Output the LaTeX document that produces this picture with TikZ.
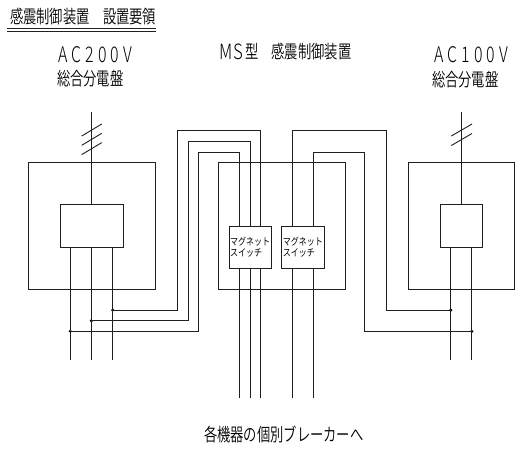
\documentclass[tikz,border=0pt]{standalone}
\usepackage{graphicx}
\usepackage{fontspec}
\setmainfont{Liberation Sans}
\newfontfamily\cjk{Noto Sans CJK JP DemiLight}
\newfontfamily\cjkb{Noto Sans CJK JP}
\newfontfamily\latn[LetterSpace=26]{Noto Sans CJK JP Light}
\newfontfamily\latnb[LetterSpace=8]{Noto Sans CJK JP Light}
\newcommand{\jp}[1]{\scalebox{0.73}[1]{\fontsize{18.2pt}{20pt}\selectfont\cjk #1}}
\newcommand{\smalljp}[1]{\scalebox{0.8}[1]{\fontsize{10pt}{12pt}\selectfont\cjkb #1}}
\newcommand{\acv}[1]{\scalebox{0.74}[1]{\fontsize{21.5pt}{24pt}\selectfont\latn #1}}
\newcommand{\msl}[1]{\scalebox{0.8}[1]{\fontsize{21pt}{20pt}\selectfont\latnb #1}}
\tikzset{
  wire/.style={line width=0.9pt,black!88},
  panel/.style={draw=black!88,line width=0.9pt,inner sep=0pt,outer sep=0pt,anchor=north west},
  switchbox/.style={panel,fill=white,minimum width=42.3pt,minimum height=42pt,align=left},
  label/.style={inner sep=0pt,outer sep=0pt,anchor=west},
  dot/.style={circle,fill=black,inner sep=0pt,minimum size=3.4pt}
}
\begin{document}
\begin{tikzpicture}[x=1pt,y=-1pt]
\useasboundingbox (0,0) rectangle (518,451);
\fill[white] (0,0) rectangle (518,451);
% texts
\node[label] (title) at (10,17) {\jp{感震制御装置　設置要領}};
\node[label] (ac200) at (58,54.5) {\acv{AC200V}};
\node[label] (pan1) at (57,79) {\jp{総合分電盤}};
\node[label] (ms) at (219,51.5) {\msl{MS}};
\node[label] (msb) at (245,51.5) {\jp{型　感震制御装置}};
\node[label] (ac100) at (434,54.5) {\acv{AC100V}};
\node[label] (pan2) at (432,79.5) {\jp{総合分電盤}};
\node[label] (bottom) at (204,434) {\jp{各機器の個別ブレーカーへ}};
% title underline
\coordinate (ula) at (7,28.5); \coordinate (ulb) at (156,28.5);
\coordinate (ulc) at (7,31.5); \coordinate (uld) at (156,31.5);
\draw[wire] (ula) -- (ulb);
\draw[wire] (ulc) -- (uld);
% panels
\node[panel,minimum width=127pt,minimum height=126.5pt] (lp) at (28,162.5) {};
\node[panel,minimum width=63.5pt,minimum height=42.7pt] (lb) at (60,204.3) {};
\node[panel,minimum width=126.7pt,minimum height=126.5pt] (mp) at (218.3,162.5) {};
\node[panel,minimum width=106.4pt,minimum height=126.5pt] (rp) at (408.3,162.5) {};
\node[panel,minimum width=42.4pt,minimum height=42.7pt] (rb) at (440.3,204.3) {};
% coordinates
\coordinate (lin) at (91.3,112);
\coordinate (rin) at (461.3,112);
\coordinate (la) at (70.3,360);
\coordinate (lc) at (91.3,360);
\coordinate (le) at (112.7,360);
\coordinate (ra) at (450.8,360);
\coordinate (re) at (471.8,360);
\coordinate (sa) at (239.3,398); \coordinate (sb) at (250,398); \coordinate (sc) at (260.4,398);
\coordinate (sd) at (292.3,398); \coordinate (se) at (313.3,398);
% junctions
\node[dot] (j1) at (112.7,310) {};
\node[dot] (j2) at (91.3,320.8) {};
\node[dot] (j3) at (70.3,331.3) {};
\node[dot] (j4) at (450.8,310) {};
\node[dot] (j5) at (471.8,331.3) {};
% switches
\node[switchbox] (s1) at (229,226) {\smalljp{マグネット}\\[-0.5pt]\smalljp{スイッチ}};
\node[switchbox] (s2) at (281.7,226) {\smalljp{マグネット}\\[-0.5pt]\smalljp{スイッチ}};
% feeds
\draw[wire] (lin) -- (lb.north -| lin);
\draw[wire] (rin) -- (rb.north -| rin);
\foreach \y in {0,9.3,18.6} \draw[wire] (81.7,136+\y) -- (101.7,124+\y);
\foreach \y in {0,9.5} \draw[wire] (451.3,136+\y) -- (472,124+\y);
% branches
\draw[wire] (lb.south -| la) -- (la);
\draw[wire] (lb.south -| lc) -- (lc);
\draw[wire] (lb.south -| le) -- (le);
\draw[wire] (rb.south -| ra) -- (ra);
\draw[wire] (rb.south -| re) -- (re);
% interconnects
\draw[wire] (j1.center) -- (177.7,310) -- (177.7,130.7) -- (260.4,130.7) -- (s1.north -| sc);
\draw[wire] (j2.center) -- (188,320.8) -- (188,141.5) -- (250,141.5) -- (s1.north -| sb);
\draw[wire] (j3.center) -- (198.9,331.3) -- (198.9,152) -- (239.3,152) -- (s1.north -| sa);
\draw[wire] (j4.center) -- (386,310) -- (386,130.7) -- (292.3,130.7) -- (s2.north -| sd);
\draw[wire] (j5.center) -- (364.7,331.3) -- (364.7,152) -- (313.3,152) -- (s2.north -| se);
% outputs
\draw[wire] (s1.south -| sa) -- (sa);
\draw[wire] (s1.south -| sb) -- (sb);
\draw[wire] (s1.south -| sc) -- (sc);
\draw[wire] (s2.south -| sd) -- (sd);
\draw[wire] (s2.south -| se) -- (se);
\end{tikzpicture}
\end{document}
